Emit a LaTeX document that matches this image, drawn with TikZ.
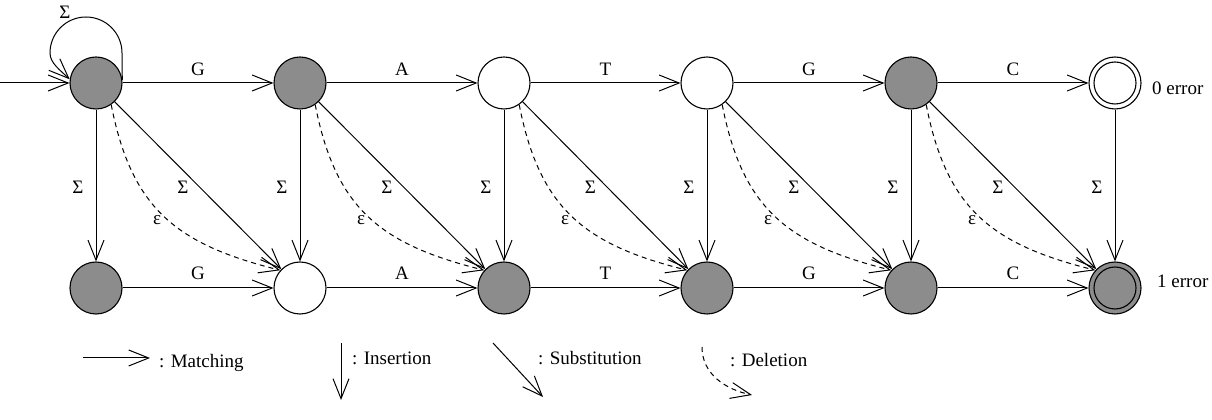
\documentclass[tikz,border=0pt]{standalone}
\usepackage{fontspec}
\setmainfont{Liberation Serif}
\usetikzlibrary{arrows.meta}
\definecolor{stategray}{RGB}{140,140,140}
\tikzset{
  st/.style={circle, draw, line width=1.1pt, minimum size=52pt, inner sep=0pt},
  stgray/.style={st, fill=stategray},
  stwhite/.style={st, fill=white},
  edge/.style={line width=1pt, -{Straight Barb[length=20pt,width=16pt,line width=1pt]}},
  del/.style={edge, dash pattern=on 5pt off 4pt},
  lab/.style={font=\fontsize{19}{21}\selectfont, inner sep=0pt},
}
\begin{document}
\begin{tikzpicture}[x=1pt,y=1pt]
\useasboundingbox (0,0) rectangle (1212,420);
% states
\foreach \i/\x/\s in {0/96/stgray,1/300/stgray,2/504/stwhite,3/707/stwhite,4/911/stgray,5/1115/stwhite}
  \node[\s] (t\i) at (\x,337) {};
\foreach \i/\x/\s in {0/96/stgray,1/300/stwhite,2/504/stgray,3/707/stgray,4/911/stgray,5/1115/stgray}
  \node[\s] (b\i) at (\x,132) {};
\draw[line width=1.1pt] (t5.center) circle[radius=21];
\draw[line width=1.1pt] (b5.center) circle[radius=21];
\node[lab, anchor=base west] (e0) at (1152,325) {0 error};
\node[lab, anchor=base west] (e1) at (1157,132) {1 error};
% initial arrow and loop
\coordinate (start) at (0,337);
\draw[edge] (start) -- (t0);
\draw[edge] (t0.7) .. controls (122,352) and (122,360) .. (122,367)
  arc[start angle=0, end angle=180, radius=36]
  .. controls (50,357) and (60,350) .. (t0.172);
\node[lab] (loopl) at (65,408) {Σ};
% edges
\foreach \i/\j/\l/\x in {0/1/G/96,1/2/A/300,2/3/T/504,3/4/G/707,4/5/C/911} {
  \draw[edge] (t\i) -- node[lab, yshift=14pt] {\l} (t\j);
  \draw[edge] (b\i) -- node[lab, yshift=15pt] {\l} (b\j);
  \draw[edge] (t\i) -- node[lab, xshift=-15pt, yshift=-2pt] {Σ} (b\j);
  \draw[del] (t\i.-55) to[out=-79,in=166,looseness=1.15] (b\j.138);
  \node[lab] (eps\i) at (\x+61,200) {ε};
}
\foreach \i in {0,...,5}
  \draw[edge] (t\i) -- node[lab, xshift=-18pt, yshift=-2pt] {Σ} (b\i);
% legend
\coordinate (m1) at (83,62); \coordinate (m2) at (150,62);
\draw[edge] (m1) -- (m2);
\node[lab, anchor=base west] (lm) at (159,52) {: Matching};
\coordinate (i1) at (341,77); \coordinate (i2) at (341,20);
\draw[edge] (i1) -- (i2);
\node[lab, anchor=base west] (li) at (352,55) {: Insertion};
\coordinate (s1) at (493,77); \coordinate (s2) at (543,23);
\draw[edge] (s1) -- (s2);
\node[lab, anchor=base west] (ls) at (538,55) {: Substitution};
\coordinate (d1) at (702,73); \coordinate (d2) at (752,25);
\draw[del] (d1) to[out=-90,in=168] (d2);
\node[lab, anchor=base west] (ld) at (730,53) {: Deletion};
\end{tikzpicture}
\end{document}
